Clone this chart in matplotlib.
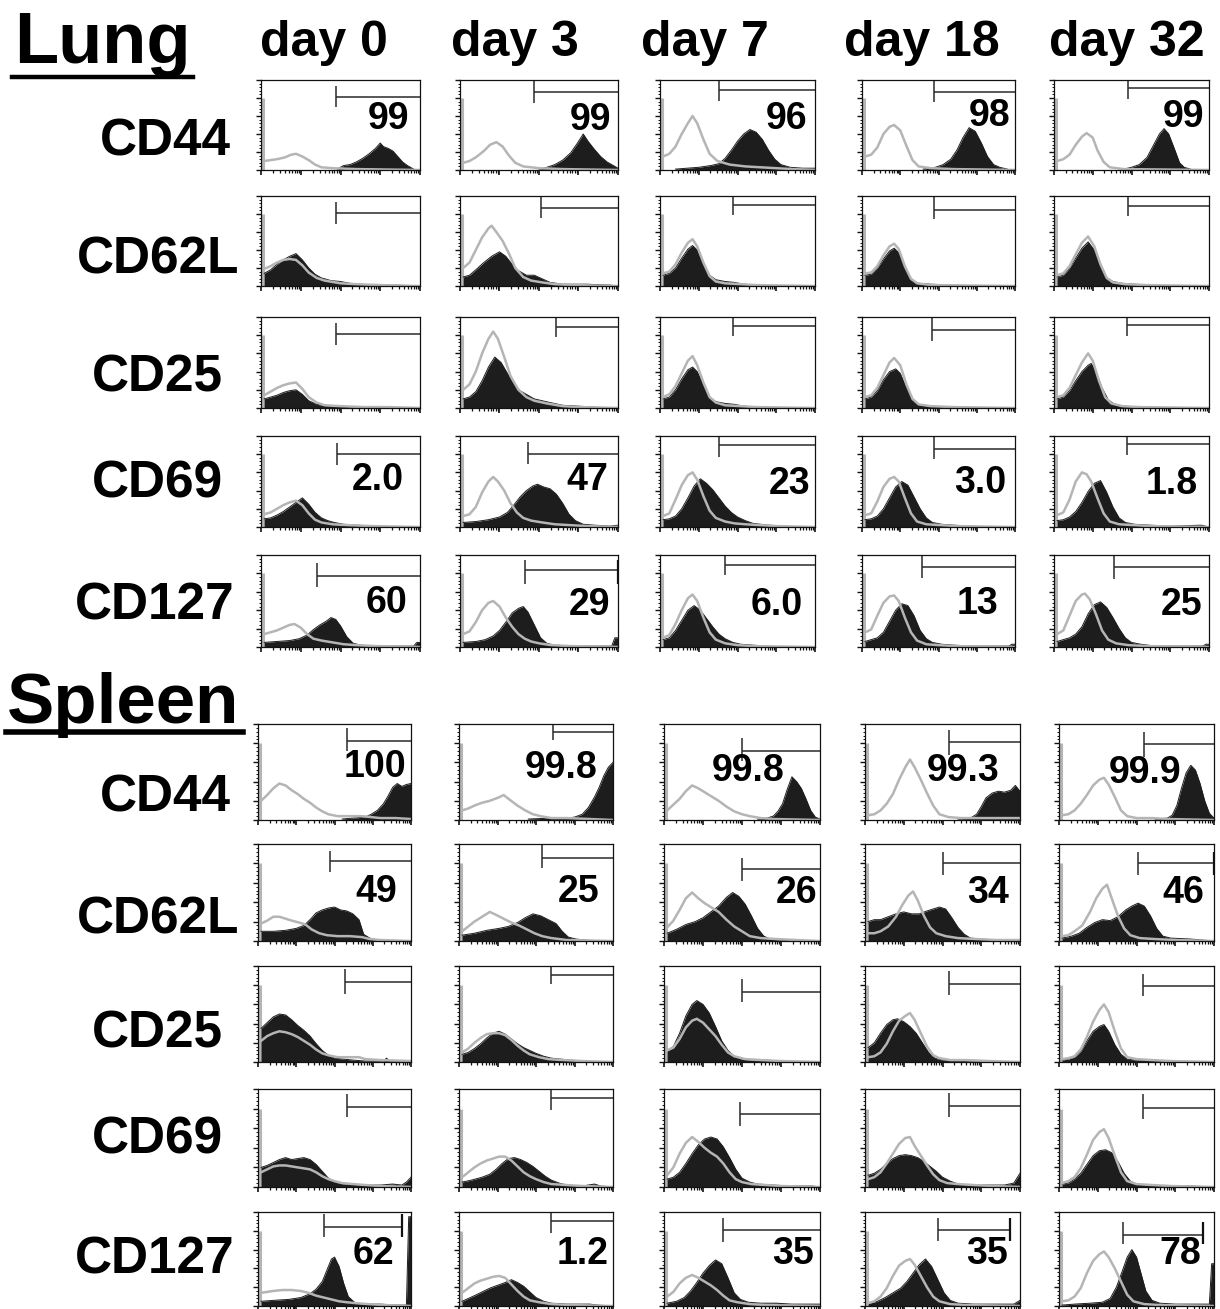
"""
Flow cytometry histogram grid: lung and spleen, five markers by five days.
"""

import numpy
import matplotlib
matplotlib.use("Agg")
from matplotlib import pyplot
from matplotlib.lines import Line2D
from matplotlib.ticker import LogLocator, NullFormatter

W, H, DPI = 1220, 1309, 100

days = ["day 0", "day 3", "day 7", "day 18", "day 32"]
markers = ["CD44", "CD62L", "CD25", "CD69", "CD127"]

# percent inside the gate ("" = not shown)
lung_pct = [["99", "99", "96", "98", "99"],
            ["", "", "", "", ""],
            ["", "", "", "", ""],
            ["2.0", "47", "23", "3.0", "1.8"],
            ["60", "29", "6.0", "13", "25"]]
spleen_pct = [["100", "99.8", "99.8", "99.3", "99.9"],
              ["49", "25", "26", "34", "46"],
              ["", "", "", "", ""],
              ["", "", "", "", ""],
              ["62", "1.2", "35", "35", "78"]]

# gates: (start, level, tick top, tick bottom, end) in axis fractions
lung_gates = [
    [(0.47, 0.81, 0.93, 0.70, 1.0), (0.47, 0.87, 1.0, 0.75, 1.0), (0.38, 0.89, 1.0, 0.77, 1.0),
     (0.47, 0.87, 1.0, 0.76, 1.0), (0.48, 0.91, 1.0, 0.79, 1.0)],
    [(0.47, 0.81, 0.93, 0.69, 1.0), (0.51, 0.87, 1.0, 0.76, 1.0), (0.47, 0.90, 1.0, 0.79, 1.0),
     (0.47, 0.85, 1.0, 0.75, 1.0), (0.48, 0.89, 1.0, 0.78, 1.0)],
    [(0.47, 0.81, 0.93, 0.69, 1.0), (0.61, 0.89, 1.0, 0.78, 1.0), (0.47, 0.90, 1.0, 0.79, 1.0),
     (0.46, 0.86, 1.0, 0.74, 1.0), (0.47, 0.91, 1.0, 0.79, 1.0)],
    [(0.48, 0.80, 0.92, 0.68, 1.0), (0.43, 0.80, 0.93, 0.69, 1.0), (0.38, 0.90, 1.0, 0.77, 1.0),
     (0.47, 0.86, 1.0, 0.75, 1.0), (0.47, 0.91, 1.0, 0.79, 1.0)],
    [(0.35, 0.77, 0.91, 0.65, 1.0), (0.41, 0.84, 0.95, 0.69, 1.0), (0.42, 0.89, 1.0, 0.78, 1.0),
     (0.39, 0.87, 1.0, 0.75, 1.0), (0.39, 0.87, 1.0, 0.74, 1.0)],
]
lung_gate_endtick = [[False] * 5, [False] * 5, [False] * 5, [False] * 5,
                     [False, True, False, False, False]]
spleen_gates = [
    [(0.58, 0.82, 0.96, 0.72, 1.0), (0.61, 0.92, 1.0, 0.83, 1.0), (0.50, 0.72, 0.85, 0.61, 1.0),
     (0.54, 0.81, 0.94, 0.68, 1.0), (0.55, 0.79, 0.92, 0.66, 1.0)],
    [(0.47, 0.82, 0.93, 0.71, 1.0), (0.54, 0.86, 1.0, 0.75, 1.0), (0.50, 0.74, 0.86, 0.62, 1.0),
     (0.50, 0.80, 0.92, 0.68, 1.0), (0.51, 0.80, 0.92, 0.68, 1.0)],
    [(0.57, 0.83, 0.97, 0.71, 1.0), (0.60, 0.91, 1.0, 0.81, 1.0), (0.50, 0.73, 0.86, 0.62, 1.0),
     (0.54, 0.81, 0.95, 0.70, 1.0), (0.54, 0.79, 0.92, 0.69, 1.0)],
    [(0.58, 0.82, 0.95, 0.71, 1.0), (0.60, 0.91, 1.0, 0.79, 1.0), (0.49, 0.74, 0.87, 0.62, 1.0),
     (0.54, 0.83, 0.96, 0.71, 1.0), (0.54, 0.81, 0.95, 0.69, 1.0)],
    [(0.43, 0.84, 0.98, 0.73, 0.94), (0.60, 0.90, 1.0, 0.78, 1.0), (0.38, 0.81, 0.94, 0.68, 1.0),
     (0.47, 0.81, 0.94, 0.69, 0.94), (0.41, 0.76, 0.89, 0.66, 0.93)],
]
spleen_gate_endtick = [[False] * 5, [False, False, False, False, True], [False] * 5, [False] * 5,
                       [True, False, False, True, True]]

# histogram outlines: (position along 4 log decades 0..1, height 0..1)
lung_cd44_black = [
    [(0.48, 0.01), (0.52, 0.05), (0.56, 0.06), (0.60, 0.09), (0.64, 0.13), (0.68, 0.18), (0.72, 0.24), (0.75, 0.30),
     (0.77, 0.26), (0.80, 0.24), (0.83, 0.21), (0.86, 0.15), (0.89, 0.09), (0.92, 0.05), (0.95, 0.02), (0.97, 0.0)],
    [(0.50, 0.01), (0.55, 0.03), (0.60, 0.06), (0.65, 0.11), (0.70, 0.19), (0.74, 0.29), (0.78, 0.40), (0.81, 0.32),
     (0.85, 0.23), (0.89, 0.15), (0.93, 0.09), (0.97, 0.05), (1.0, 0.02)],
    [(0.10, 0.01), (0.25, 0.03), (0.33, 0.05), (0.38, 0.07), (0.42, 0.13), (0.46, 0.22), (0.50, 0.32), (0.54, 0.40),
     (0.58, 0.45), (0.62, 0.42), (0.66, 0.34), (0.70, 0.22), (0.74, 0.12), (0.78, 0.06), (0.84, 0.03), (0.92, 0.02),
     (1.0, 0.02)],
    [(0.40, 0.01), (0.48, 0.03), (0.53, 0.06), (0.58, 0.12), (0.62, 0.22), (0.66, 0.36), (0.70, 0.47), (0.74, 0.43),
     (0.78, 0.30), (0.82, 0.15), (0.86, 0.06), (0.90, 0.03), (0.95, 0.01)],
    [(0.45, 0.01), (0.50, 0.03), (0.55, 0.06), (0.60, 0.14), (0.64, 0.27), (0.68, 0.40), (0.71, 0.46), (0.74, 0.40),
     (0.78, 0.22), (0.81, 0.08), (0.84, 0.03), (0.88, 0.01)],
]
lung_cd44_gray = [
    [(0.02, 0.10), (0.06, 0.11), (0.10, 0.12), (0.15, 0.14), (0.19, 0.17), (0.22, 0.18), (0.26, 0.15), (0.30, 0.11),
     (0.34, 0.06), (0.38, 0.03), (0.45, 0.02), (0.60, 0.01), (1.0, 0.0)],
    [(0.02, 0.08), (0.06, 0.10), (0.10, 0.14), (0.15, 0.21), (0.19, 0.28), (0.23, 0.31), (0.27, 0.26), (0.31, 0.16),
     (0.35, 0.08), (0.40, 0.04), (0.50, 0.02), (0.65, 0.01), (1.0, 0.0)],
    [(0.02, 0.15), (0.06, 0.18), (0.10, 0.26), (0.14, 0.40), (0.18, 0.52), (0.21, 0.60), (0.24, 0.52), (0.28, 0.34),
     (0.32, 0.18), (0.37, 0.10), (0.45, 0.06), (0.55, 0.04), (0.65, 0.03), (0.75, 0.02), (0.85, 0.01), (1.0, 0.0)],
    [(0.02, 0.15), (0.06, 0.17), (0.10, 0.25), (0.14, 0.40), (0.18, 0.48), (0.21, 0.50), (0.25, 0.44), (0.29, 0.27),
     (0.33, 0.11), (0.37, 0.04), (0.45, 0.02), (0.60, 0.01), (1.0, 0.0)],
    [(0.02, 0.10), (0.06, 0.12), (0.10, 0.17), (0.14, 0.28), (0.18, 0.37), (0.21, 0.41), (0.25, 0.36), (0.28, 0.22),
     (0.32, 0.09), (0.36, 0.03), (0.45, 0.01), (1.0, 0.0)],
]
lung_cd62l_black = [
    [(0.02, 0.14), (0.06, 0.18), (0.10, 0.24), (0.14, 0.29), (0.18, 0.33), (0.22, 0.36), (0.26, 0.29), (0.30, 0.20),
     (0.34, 0.13), (0.38, 0.09), (0.44, 0.06), (0.50, 0.05), (0.56, 0.03), (0.62, 0.02), (0.72, 0.01), (0.85, 0.01),
     (1.0, 0.0)],
    [(0.02, 0.10), (0.06, 0.12), (0.10, 0.18), (0.15, 0.26), (0.20, 0.33), (0.25, 0.38), (0.29, 0.33), (0.33, 0.24),
     (0.37, 0.17), (0.42, 0.12), (0.47, 0.12), (0.52, 0.08), (0.57, 0.04), (0.65, 0.02), (0.80, 0.02), (0.95, 0.01),
     (1.0, 0.0)],
    [(0.02, 0.12), (0.06, 0.14), (0.10, 0.20), (0.14, 0.31), (0.18, 0.41), (0.21, 0.45), (0.24, 0.40), (0.28, 0.25),
     (0.32, 0.12), (0.36, 0.07), (0.42, 0.05), (0.48, 0.04), (0.54, 0.02), (0.62, 0.01), (0.70, 0.0)],
    [(0.02, 0.12), (0.06, 0.13), (0.10, 0.20), (0.14, 0.30), (0.18, 0.39), (0.21, 0.42), (0.24, 0.37), (0.28, 0.20),
     (0.32, 0.07), (0.37, 0.03), (0.45, 0.02), (0.60, 0.01), (0.75, 0.0)],
    [(0.02, 0.10), (0.06, 0.12), (0.10, 0.20), (0.14, 0.31), (0.18, 0.42), (0.22, 0.49), (0.26, 0.40), (0.30, 0.22),
     (0.34, 0.09), (0.38, 0.05), (0.44, 0.03), (0.52, 0.02), (0.62, 0.01), (0.70, 0.0)],
]
lung_cd62l_gray = [
    [(0.02, 0.19), (0.06, 0.22), (0.10, 0.26), (0.14, 0.29), (0.18, 0.30), (0.22, 0.29), (0.26, 0.23), (0.30, 0.15),
     (0.35, 0.09), (0.40, 0.06), (0.50, 0.03), (0.60, 0.02), (0.75, 0.01), (1.0, 0.0)],
    [(0.02, 0.20), (0.06, 0.26), (0.10, 0.40), (0.14, 0.54), (0.18, 0.64), (0.20, 0.67), (0.23, 0.60), (0.27, 0.50),
     (0.31, 0.36), (0.35, 0.20), (0.40, 0.10), (0.45, 0.06), (0.52, 0.04), (0.60, 0.02), (0.72, 0.01), (1.0, 0.0)],
    [(0.02, 0.14), (0.06, 0.16), (0.10, 0.24), (0.14, 0.37), (0.18, 0.48), (0.21, 0.52), (0.24, 0.44), (0.28, 0.26),
     (0.32, 0.11), (0.36, 0.05), (0.42, 0.03), (0.52, 0.02), (0.62, 0.01), (1.0, 0.0)],
    [(0.02, 0.14), (0.06, 0.15), (0.10, 0.22), (0.14, 0.34), (0.18, 0.44), (0.21, 0.47), (0.24, 0.41), (0.28, 0.22),
     (0.32, 0.08), (0.36, 0.03), (0.45, 0.01), (1.0, 0.0)],
    [(0.02, 0.12), (0.06, 0.14), (0.10, 0.22), (0.14, 0.35), (0.18, 0.48), (0.22, 0.55), (0.26, 0.44), (0.30, 0.24),
     (0.34, 0.09), (0.38, 0.04), (0.46, 0.02), (0.60, 0.01), (1.0, 0.0)],
]
lung_cd25_black = [
    [(0.02, 0.10), (0.06, 0.12), (0.10, 0.14), (0.14, 0.17), (0.18, 0.19), (0.22, 0.20), (0.26, 0.15), (0.30, 0.08),
     (0.35, 0.04), (0.40, 0.03), (0.50, 0.02), (0.60, 0.01), (0.70, 0.0)],
    [(0.02, 0.10), (0.06, 0.12), (0.10, 0.18), (0.14, 0.30), (0.18, 0.45), (0.22, 0.56), (0.26, 0.50), (0.30, 0.38),
     (0.34, 0.26), (0.38, 0.19), (0.42, 0.15), (0.47, 0.10), (0.52, 0.08), (0.57, 0.06), (0.65, 0.03), (0.75, 0.02),
     (0.85, 0.01), (0.95, 0.0)],
    [(0.02, 0.10), (0.06, 0.12), (0.10, 0.20), (0.14, 0.32), (0.18, 0.42), (0.21, 0.45), (0.24, 0.40), (0.28, 0.25),
     (0.32, 0.12), (0.36, 0.07), (0.42, 0.05), (0.48, 0.04), (0.54, 0.02), (0.62, 0.01), (0.70, 0.0)],
    [(0.02, 0.10), (0.06, 0.12), (0.10, 0.19), (0.14, 0.31), (0.18, 0.40), (0.22, 0.43), (0.25, 0.38), (0.29, 0.22),
     (0.33, 0.09), (0.37, 0.04), (0.45, 0.02), (0.60, 0.01), (0.75, 0.0)],
    [(0.02, 0.10), (0.06, 0.12), (0.10, 0.19), (0.14, 0.30), (0.18, 0.40), (0.22, 0.47), (0.24, 0.49), (0.27, 0.40),
     (0.31, 0.22), (0.35, 0.09), (0.39, 0.04), (0.45, 0.02), (0.55, 0.01), (0.65, 0.0)],
]
lung_cd25_gray = [
    [(0.02, 0.14), (0.06, 0.18), (0.10, 0.22), (0.14, 0.25), (0.18, 0.27), (0.22, 0.28), (0.26, 0.21), (0.30, 0.12),
     (0.35, 0.06), (0.40, 0.03), (0.50, 0.02), (0.65, 0.01), (0.80, 0.01), (1.0, 0.0)],
    [(0.02, 0.20), (0.06, 0.26), (0.10, 0.40), (0.14, 0.60), (0.18, 0.76), (0.21, 0.84), (0.24, 0.76), (0.28, 0.56),
     (0.32, 0.35), (0.37, 0.20), (0.42, 0.12), (0.47, 0.08), (0.55, 0.05), (0.65, 0.02), (0.75, 0.01), (1.0, 0.0)],
    [(0.02, 0.12), (0.06, 0.15), (0.10, 0.24), (0.14, 0.38), (0.18, 0.52), (0.21, 0.57), (0.24, 0.47), (0.28, 0.28),
     (0.32, 0.12), (0.36, 0.06), (0.42, 0.03), (0.52, 0.02), (0.62, 0.01), (1.0, 0.0)],
    [(0.02, 0.12), (0.06, 0.14), (0.10, 0.22), (0.14, 0.36), (0.18, 0.50), (0.21, 0.55), (0.25, 0.47), (0.29, 0.26),
     (0.33, 0.10), (0.37, 0.04), (0.45, 0.02), (0.60, 0.01), (1.0, 0.0)],
    [(0.02, 0.12), (0.06, 0.14), (0.10, 0.22), (0.14, 0.36), (0.18, 0.50), (0.22, 0.60), (0.25, 0.52), (0.29, 0.30),
     (0.33, 0.12), (0.37, 0.05), (0.44, 0.02), (0.55, 0.01), (1.0, 0.0)],
]
lung_cd69_black = [
    [(0.02, 0.09), (0.06, 0.10), (0.10, 0.13), (0.14, 0.17), (0.18, 0.22), (0.22, 0.27), (0.26, 0.32), (0.30, 0.25),
     (0.34, 0.16), (0.38, 0.10), (0.42, 0.07), (0.46, 0.05), (0.52, 0.03), (0.60, 0.02), (0.70, 0.01), (0.80, 0.0)],
    [(0.02, 0.05), (0.10, 0.06), (0.18, 0.08), (0.25, 0.11), (0.30, 0.16), (0.34, 0.24), (0.38, 0.33), (0.42, 0.40),
     (0.46, 0.45), (0.49, 0.47), (0.53, 0.44), (0.57, 0.42), (0.61, 0.36), (0.65, 0.26), (0.69, 0.14), (0.73, 0.07),
     (0.78, 0.03), (0.85, 0.02), (0.95, 0.01), (1.0, 0.02)],
    [(0.02, 0.08), (0.06, 0.09), (0.10, 0.12), (0.14, 0.20), (0.18, 0.32), (0.22, 0.45), (0.26, 0.53), (0.30, 0.48),
     (0.34, 0.41), (0.38, 0.32), (0.42, 0.23), (0.46, 0.16), (0.50, 0.11), (0.55, 0.07), (0.60, 0.04), (0.70, 0.02),
     (0.80, 0.01), (0.90, 0.0)],
    [(0.02, 0.08), (0.06, 0.09), (0.10, 0.12), (0.14, 0.20), (0.18, 0.32), (0.22, 0.44), (0.26, 0.50), (0.30, 0.46),
     (0.34, 0.33), (0.38, 0.20), (0.42, 0.10), (0.46, 0.05), (0.52, 0.03), (0.60, 0.02), (0.70, 0.01), (0.80, 0.0)],
    [(0.02, 0.07), (0.06, 0.08), (0.10, 0.11), (0.14, 0.17), (0.18, 0.27), (0.22, 0.39), (0.26, 0.48), (0.30, 0.51),
     (0.34, 0.38), (0.38, 0.22), (0.42, 0.10), (0.46, 0.05), (0.52, 0.03), (0.62, 0.02), (0.75, 0.01), (0.95, 0.02),
     (1.0, 0.0)],
]
lung_cd69_gray = [
    [(0.02, 0.14), (0.06, 0.16), (0.10, 0.20), (0.14, 0.24), (0.18, 0.27), (0.22, 0.29), (0.26, 0.24), (0.30, 0.15),
     (0.34, 0.08), (0.38, 0.05), (0.45, 0.03), (0.55, 0.02), (0.70, 0.01), (1.0, 0.0)],
    [(0.02, 0.12), (0.06, 0.14), (0.10, 0.22), (0.14, 0.38), (0.18, 0.50), (0.21, 0.55), (0.24, 0.50), (0.28, 0.40),
     (0.32, 0.26), (0.36, 0.16), (0.40, 0.10), (0.45, 0.07), (0.52, 0.05), (0.60, 0.03), (0.70, 0.02), (0.80, 0.01),
     (1.0, 0.0)],
    [(0.02, 0.12), (0.06, 0.15), (0.10, 0.30), (0.14, 0.46), (0.18, 0.57), (0.21, 0.60), (0.24, 0.52), (0.28, 0.34),
     (0.32, 0.18), (0.36, 0.10), (0.42, 0.06), (0.48, 0.04), (0.55, 0.03), (0.65, 0.02), (0.75, 0.01), (1.0, 0.0)],
    [(0.02, 0.13), (0.06, 0.15), (0.10, 0.28), (0.14, 0.44), (0.18, 0.53), (0.21, 0.55), (0.24, 0.50), (0.28, 0.32),
     (0.32, 0.15), (0.36, 0.06), (0.42, 0.03), (0.52, 0.02), (0.62, 0.01), (1.0, 0.0)],
    [(0.02, 0.13), (0.06, 0.16), (0.10, 0.30), (0.14, 0.50), (0.18, 0.60), (0.21, 0.58), (0.24, 0.50), (0.28, 0.32),
     (0.32, 0.15), (0.36, 0.06), (0.42, 0.03), (0.52, 0.02), (0.62, 0.01), (1.0, 0.0)],
]
lung_cd127_black = [
    [(0.02, 0.05), (0.10, 0.06), (0.18, 0.07), (0.24, 0.09), (0.29, 0.13), (0.33, 0.19), (0.37, 0.24), (0.41, 0.28),
     (0.44, 0.32), (0.47, 0.30), (0.50, 0.23), (0.54, 0.11), (0.58, 0.04), (0.63, 0.02), (0.72, 0.01), (0.85, 0.01),
     (0.96, 0.01), (0.98, 0.05), (1.0, 0.05)],
    [(0.02, 0.05), (0.10, 0.06), (0.16, 0.08), (0.21, 0.12), (0.25, 0.18), (0.29, 0.27), (0.33, 0.37), (0.37, 0.42),
     (0.40, 0.44), (0.43, 0.38), (0.47, 0.24), (0.51, 0.10), (0.55, 0.04), (0.60, 0.02), (0.70, 0.01), (0.96, 0.01),
     (0.98, 0.10), (1.0, 0.10)],
    [(0.02, 0.08), (0.06, 0.10), (0.10, 0.18), (0.14, 0.29), (0.18, 0.40), (0.22, 0.45), (0.26, 0.40), (0.30, 0.31),
     (0.34, 0.22), (0.38, 0.14), (0.42, 0.09), (0.47, 0.05), (0.52, 0.03), (0.60, 0.02), (0.68, 0.01), (0.75, 0.0)],
    [(0.02, 0.06), (0.06, 0.08), (0.10, 0.10), (0.14, 0.16), (0.18, 0.28), (0.22, 0.40), (0.26, 0.47), (0.30, 0.45),
     (0.34, 0.34), (0.38, 0.18), (0.42, 0.09), (0.46, 0.05), (0.52, 0.03), (0.60, 0.02), (0.72, 0.01), (0.96, 0.01),
     (0.98, 0.03), (1.0, 0.03)],
    [(0.02, 0.06), (0.06, 0.08), (0.10, 0.10), (0.14, 0.14), (0.18, 0.22), (0.22, 0.36), (0.26, 0.46), (0.30, 0.49),
     (0.34, 0.43), (0.38, 0.32), (0.42, 0.20), (0.46, 0.10), (0.50, 0.05), (0.56, 0.03), (0.65, 0.01), (0.96, 0.01),
     (0.98, 0.03), (1.0, 0.03)],
]
lung_cd127_gray = [
    [(0.02, 0.14), (0.06, 0.16), (0.10, 0.18), (0.14, 0.21), (0.18, 0.24), (0.21, 0.25), (0.25, 0.21), (0.29, 0.14),
     (0.33, 0.09), (0.38, 0.07), (0.45, 0.05), (0.52, 0.03), (0.60, 0.02), (0.72, 0.01), (1.0, 0.0)],
    [(0.02, 0.14), (0.06, 0.17), (0.10, 0.27), (0.14, 0.40), (0.18, 0.48), (0.21, 0.50), (0.25, 0.44), (0.29, 0.32),
     (0.33, 0.22), (0.37, 0.14), (0.41, 0.09), (0.45, 0.06), (0.50, 0.04), (0.58, 0.02), (0.70, 0.01), (1.0, 0.0)],
    [(0.02, 0.10), (0.06, 0.13), (0.10, 0.25), (0.14, 0.40), (0.18, 0.53), (0.21, 0.57), (0.24, 0.50), (0.28, 0.32),
     (0.32, 0.16), (0.36, 0.08), (0.42, 0.04), (0.50, 0.02), (0.60, 0.01), (1.0, 0.0)],
    [(0.02, 0.16), (0.06, 0.19), (0.10, 0.34), (0.14, 0.48), (0.18, 0.55), (0.21, 0.56), (0.24, 0.50), (0.28, 0.32),
     (0.32, 0.16), (0.36, 0.07), (0.42, 0.03), (0.50, 0.02), (0.60, 0.01), (1.0, 0.0)],
    [(0.02, 0.14), (0.06, 0.18), (0.10, 0.34), (0.14, 0.50), (0.18, 0.57), (0.20, 0.58), (0.23, 0.52), (0.27, 0.36),
     (0.31, 0.18), (0.35, 0.08), (0.40, 0.04), (0.48, 0.02), (0.60, 0.01), (1.0, 0.0)],
]

spleen_cd44_black = [
    [(0.55, 0.01), (0.62, 0.02), (0.70, 0.03), (0.74, 0.06), (0.78, 0.10), (0.82, 0.17), (0.85, 0.25), (0.88, 0.34),
     (0.91, 0.38), (0.94, 0.35), (0.97, 0.37), (1.0, 0.38)],
    [(0.45, 0.01), (0.60, 0.02), (0.70, 0.02), (0.75, 0.03), (0.80, 0.06), (0.84, 0.13), (0.88, 0.24), (0.91, 0.34),
     (0.94, 0.46), (0.97, 0.55), (1.0, 0.60)],
    [(0.60, 0.01), (0.66, 0.02), (0.70, 0.04), (0.73, 0.09), (0.76, 0.17), (0.79, 0.32), (0.82, 0.45), (0.85, 0.40),
     (0.88, 0.33), (0.91, 0.22), (0.94, 0.10), (0.97, 0.03), (1.0, 0.01)],
    [(0.60, 0.01), (0.68, 0.02), (0.72, 0.06), (0.75, 0.14), (0.78, 0.23), (0.82, 0.28), (0.86, 0.30), (0.90, 0.29),
     (0.94, 0.31), (0.97, 0.36), (1.0, 0.30)],
    [(0.62, 0.01), (0.70, 0.02), (0.73, 0.05), (0.76, 0.15), (0.79, 0.33), (0.82, 0.49), (0.85, 0.57), (0.88, 0.52),
     (0.91, 0.38), (0.94, 0.20), (0.97, 0.07), (1.0, 0.02)],
]
spleen_cd44_gray = [
    [(0.02, 0.20), (0.06, 0.26), (0.10, 0.33), (0.14, 0.38), (0.18, 0.36), (0.22, 0.31), (0.26, 0.27), (0.30, 0.22),
     (0.34, 0.18), (0.38, 0.13), (0.42, 0.09), (0.46, 0.06), (0.52, 0.04), (0.60, 0.04), (0.68, 0.04), (0.74, 0.03),
     (0.80, 0.02), (0.90, 0.02), (1.0, 0.01)],
    [(0.02, 0.10), (0.06, 0.12), (0.10, 0.15), (0.15, 0.18), (0.20, 0.20), (0.25, 0.23), (0.29, 0.26), (0.33, 0.21),
     (0.38, 0.15), (0.43, 0.10), (0.48, 0.06), (0.53, 0.04), (0.60, 0.02), (0.70, 0.02), (0.85, 0.01), (1.0, 0.0)],
    [(0.02, 0.10), (0.06, 0.16), (0.10, 0.22), (0.14, 0.30), (0.18, 0.36), (0.22, 0.33), (0.26, 0.29), (0.30, 0.25),
     (0.35, 0.20), (0.40, 0.14), (0.45, 0.09), (0.50, 0.06), (0.55, 0.04), (0.62, 0.02), (0.70, 0.01), (1.0, 0.0)],
    [(0.02, 0.05), (0.06, 0.06), (0.10, 0.10), (0.14, 0.17), (0.18, 0.27), (0.22, 0.42), (0.26, 0.55), (0.29, 0.63),
     (0.32, 0.55), (0.36, 0.42), (0.40, 0.28), (0.44, 0.15), (0.48, 0.06), (0.54, 0.03), (0.62, 0.02), (0.75, 0.02),
     (0.90, 0.02), (1.0, 0.02)],
    [(0.02, 0.05), (0.06, 0.06), (0.10, 0.10), (0.14, 0.17), (0.18, 0.26), (0.22, 0.36), (0.26, 0.42), (0.29, 0.44),
     (0.32, 0.37), (0.36, 0.24), (0.40, 0.10), (0.44, 0.04), (0.50, 0.02), (0.60, 0.02), (0.70, 0.01), (1.0, 0.0)],
]
spleen_cd62l_black = [
    [(0.02, 0.10), (0.10, 0.10), (0.18, 0.11), (0.25, 0.13), (0.30, 0.16), (0.34, 0.22), (0.38, 0.29), (0.42, 0.32),
     (0.46, 0.34), (0.50, 0.35), (0.54, 0.32), (0.58, 0.31), (0.62, 0.28), (0.66, 0.22), (0.69, 0.07), (0.73, 0.03),
     (0.78, 0.01), (0.82, 0.0)],
    [(0.02, 0.06), (0.10, 0.08), (0.18, 0.11), (0.26, 0.13), (0.32, 0.15), (0.38, 0.19), (0.43, 0.24), (0.48, 0.28),
     (0.53, 0.26), (0.58, 0.22), (0.63, 0.18), (0.67, 0.10), (0.71, 0.04), (0.76, 0.02), (0.82, 0.01), (0.90, 0.0)],
    [(0.02, 0.08), (0.08, 0.12), (0.14, 0.17), (0.20, 0.20), (0.25, 0.24), (0.30, 0.30), (0.35, 0.36), (0.40, 0.45),
     (0.44, 0.50), (0.48, 0.46), (0.52, 0.38), (0.56, 0.26), (0.60, 0.13), (0.64, 0.05), (0.68, 0.02), (0.75, 0.01),
     (0.85, 0.0)],
    [(0.02, 0.20), (0.06, 0.22), (0.10, 0.22), (0.15, 0.25), (0.20, 0.28), (0.25, 0.30), (0.30, 0.28), (0.35, 0.28),
     (0.40, 0.31), (0.44, 0.33), (0.48, 0.35), (0.52, 0.33), (0.56, 0.24), (0.60, 0.14), (0.64, 0.07), (0.68, 0.03),
     (0.75, 0.02), (0.85, 0.01), (1.0, 0.0)],
    [(0.02, 0.03), (0.08, 0.05), (0.13, 0.08), (0.18, 0.14), (0.23, 0.19), (0.28, 0.22), (0.33, 0.21), (0.38, 0.25),
     (0.43, 0.32), (0.47, 0.36), (0.51, 0.39), (0.55, 0.36), (0.59, 0.26), (0.63, 0.13), (0.67, 0.05), (0.72, 0.03),
     (0.85, 0.02), (1.0, 0.0)],
]
spleen_cd62l_gray = [
    [(0.02, 0.18), (0.06, 0.21), (0.10, 0.25), (0.14, 0.25), (0.18, 0.23), (0.22, 0.21), (0.27, 0.19), (0.31, 0.17),
     (0.35, 0.12), (0.40, 0.08), (0.45, 0.06), (0.52, 0.05), (0.60, 0.05), (0.68, 0.04), (0.73, 0.02), (0.80, 0.01),
     (1.0, 0.0)],
    [(0.02, 0.10), (0.06, 0.15), (0.10, 0.20), (0.15, 0.25), (0.20, 0.30), (0.24, 0.27), (0.29, 0.23), (0.34, 0.19),
     (0.39, 0.16), (0.44, 0.12), (0.49, 0.08), (0.54, 0.05), (0.60, 0.03), (0.70, 0.01), (1.0, 0.0)],
    [(0.02, 0.14), (0.06, 0.21), (0.10, 0.32), (0.14, 0.44), (0.18, 0.50), (0.22, 0.44), (0.26, 0.39), (0.30, 0.35),
     (0.35, 0.30), (0.40, 0.22), (0.45, 0.15), (0.50, 0.10), (0.55, 0.05), (0.62, 0.03), (0.72, 0.02), (0.85, 0.01),
     (1.0, 0.0)],
    [(0.02, 0.08), (0.06, 0.08), (0.10, 0.10), (0.15, 0.15), (0.20, 0.25), (0.24, 0.37), (0.28, 0.47), (0.31, 0.51),
     (0.34, 0.42), (0.38, 0.26), (0.42, 0.14), (0.46, 0.08), (0.52, 0.05), (0.60, 0.03), (0.72, 0.02), (0.85, 0.01),
     (1.0, 0.01)],
    [(0.02, 0.05), (0.06, 0.06), (0.10, 0.10), (0.15, 0.16), (0.20, 0.30), (0.24, 0.44), (0.28, 0.54), (0.31, 0.58),
     (0.34, 0.44), (0.38, 0.26), (0.42, 0.13), (0.46, 0.06), (0.52, 0.03), (0.62, 0.02), (0.75, 0.01), (1.0, 0.0)],
]
spleen_cd25_black = [
    [(0.02, 0.35), (0.06, 0.41), (0.10, 0.47), (0.14, 0.50), (0.18, 0.49), (0.22, 0.44), (0.26, 0.38), (0.30, 0.33),
     (0.34, 0.27), (0.38, 0.19), (0.42, 0.12), (0.46, 0.07), (0.50, 0.04), (0.56, 0.03), (0.62, 0.02), (0.70, 0.01),
     (0.82, 0.01), (0.84, 0.04), (0.86, 0.01), (1.0, 0.0)],
    [(0.02, 0.08), (0.06, 0.10), (0.10, 0.14), (0.14, 0.19), (0.18, 0.25), (0.22, 0.30), (0.26, 0.32), (0.30, 0.29),
     (0.34, 0.24), (0.38, 0.19), (0.42, 0.15), (0.46, 0.12), (0.50, 0.09), (0.55, 0.06), (0.60, 0.04), (0.66, 0.03),
     (0.72, 0.02), (0.80, 0.01), (0.90, 0.0)],
    [(0.02, 0.12), (0.06, 0.16), (0.10, 0.30), (0.14, 0.48), (0.18, 0.60), (0.21, 0.64), (0.25, 0.60), (0.29, 0.51),
     (0.33, 0.37), (0.37, 0.22), (0.41, 0.12), (0.45, 0.06), (0.50, 0.03), (0.56, 0.02), (0.65, 0.02), (0.75, 0.01),
     (0.90, 0.0)],
    [(0.02, 0.15), (0.06, 0.20), (0.10, 0.30), (0.14, 0.39), (0.18, 0.44), (0.21, 0.45), (0.25, 0.42), (0.29, 0.37),
     (0.33, 0.30), (0.37, 0.20), (0.41, 0.10), (0.45, 0.04), (0.50, 0.02), (0.60, 0.02), (0.70, 0.01), (0.85, 0.0)],
    [(0.02, 0.02), (0.06, 0.03), (0.10, 0.05), (0.14, 0.11), (0.18, 0.22), (0.22, 0.32), (0.26, 0.37), (0.29, 0.39),
     (0.32, 0.32), (0.36, 0.18), (0.40, 0.08), (0.44, 0.03), (0.50, 0.02), (0.60, 0.02), (0.72, 0.01), (0.85, 0.0)],
]
spleen_cd25_gray = [
    [(0.02, 0.22), (0.06, 0.27), (0.10, 0.30), (0.14, 0.32), (0.18, 0.31), (0.22, 0.29), (0.26, 0.26), (0.30, 0.22),
     (0.34, 0.18), (0.38, 0.13), (0.42, 0.09), (0.46, 0.07), (0.52, 0.05), (0.60, 0.05), (0.66, 0.05), (0.70, 0.03),
     (0.80, 0.02), (1.0, 0.01)],
    [(0.02, 0.10), (0.06, 0.14), (0.10, 0.20), (0.14, 0.25), (0.18, 0.29), (0.22, 0.30), (0.26, 0.30), (0.30, 0.28),
     (0.34, 0.23), (0.38, 0.17), (0.42, 0.12), (0.46, 0.08), (0.52, 0.05), (0.58, 0.03), (0.68, 0.02), (0.80, 0.01),
     (1.0, 0.0)],
    [(0.02, 0.12), (0.06, 0.15), (0.10, 0.24), (0.14, 0.36), (0.18, 0.43), (0.21, 0.45), (0.25, 0.41), (0.29, 0.34),
     (0.33, 0.27), (0.37, 0.18), (0.41, 0.10), (0.45, 0.06), (0.52, 0.03), (0.62, 0.02), (0.75, 0.01), (1.0, 0.0)],
    [(0.02, 0.05), (0.06, 0.06), (0.10, 0.10), (0.14, 0.19), (0.18, 0.32), (0.22, 0.43), (0.26, 0.48), (0.29, 0.51),
     (0.32, 0.44), (0.36, 0.30), (0.40, 0.16), (0.44, 0.07), (0.48, 0.04), (0.55, 0.02), (0.65, 0.02), (0.80, 0.01),
     (1.0, 0.0)],
    [(0.02, 0.03), (0.06, 0.04), (0.10, 0.06), (0.14, 0.13), (0.18, 0.26), (0.22, 0.42), (0.26, 0.54), (0.29, 0.60),
     (0.32, 0.52), (0.36, 0.32), (0.40, 0.14), (0.44, 0.05), (0.50, 0.03), (0.60, 0.02), (0.72, 0.01), (1.0, 0.0)],
]
spleen_cd69_black = [
    [(0.02, 0.20), (0.06, 0.22), (0.10, 0.25), (0.14, 0.28), (0.18, 0.30), (0.22, 0.28), (0.26, 0.29), (0.30, 0.30),
     (0.34, 0.28), (0.38, 0.23), (0.42, 0.16), (0.46, 0.09), (0.50, 0.05), (0.56, 0.03), (0.62, 0.03), (0.70, 0.02),
     (0.80, 0.02), (0.88, 0.03), (0.94, 0.02), (0.97, 0.05), (1.0, 0.10)],
    [(0.02, 0.05), (0.08, 0.07), (0.15, 0.10), (0.20, 0.13), (0.24, 0.18), (0.28, 0.24), (0.32, 0.29), (0.36, 0.30),
     (0.40, 0.28), (0.44, 0.25), (0.48, 0.21), (0.52, 0.16), (0.56, 0.11), (0.60, 0.07), (0.65, 0.04), (0.70, 0.02),
     (0.80, 0.01), (0.88, 0.03), (0.92, 0.01), (1.0, 0.0)],
    [(0.02, 0.08), (0.06, 0.10), (0.10, 0.15), (0.14, 0.24), (0.18, 0.34), (0.22, 0.43), (0.26, 0.49), (0.30, 0.51),
     (0.34, 0.49), (0.38, 0.41), (0.42, 0.30), (0.46, 0.18), (0.50, 0.09), (0.55, 0.05), (0.60, 0.03), (0.70, 0.02),
     (0.80, 0.01), (0.95, 0.01), (1.0, 0.0)],
    [(0.02, 0.12), (0.06, 0.14), (0.10, 0.18), (0.14, 0.24), (0.18, 0.29), (0.22, 0.32), (0.26, 0.33), (0.30, 0.32),
     (0.34, 0.30), (0.38, 0.26), (0.42, 0.21), (0.46, 0.16), (0.50, 0.10), (0.55, 0.06), (0.60, 0.03), (0.70, 0.02),
     (0.80, 0.02), (0.90, 0.02), (0.96, 0.04), (1.0, 0.14)],
    [(0.02, 0.03), (0.06, 0.04), (0.10, 0.08), (0.14, 0.14), (0.18, 0.23), (0.22, 0.32), (0.26, 0.37), (0.30, 0.38),
     (0.34, 0.35), (0.38, 0.26), (0.42, 0.14), (0.46, 0.06), (0.50, 0.03), (0.60, 0.02), (0.70, 0.01), (0.85, 0.01),
     (1.0, 0.0)],
]
spleen_cd69_gray = [
    [(0.02, 0.15), (0.06, 0.18), (0.10, 0.21), (0.14, 0.22), (0.18, 0.22), (0.22, 0.21), (0.26, 0.20), (0.30, 0.19),
     (0.34, 0.18), (0.38, 0.15), (0.42, 0.11), (0.46, 0.08), (0.50, 0.06), (0.55, 0.04), (0.62, 0.03), (0.70, 0.02),
     (0.80, 0.01), (1.0, 0.0)],
    [(0.02, 0.10), (0.06, 0.15), (0.10, 0.20), (0.14, 0.24), (0.18, 0.27), (0.22, 0.29), (0.26, 0.31), (0.30, 0.31),
     (0.34, 0.27), (0.38, 0.21), (0.42, 0.15), (0.46, 0.11), (0.50, 0.08), (0.55, 0.05), (0.60, 0.03), (0.70, 0.02),
     (0.80, 0.01), (1.0, 0.0)],
    [(0.02, 0.12), (0.06, 0.20), (0.10, 0.34), (0.14, 0.45), (0.18, 0.51), (0.22, 0.46), (0.26, 0.40), (0.30, 0.35),
     (0.34, 0.31), (0.38, 0.24), (0.42, 0.15), (0.46, 0.08), (0.50, 0.05), (0.56, 0.03), (0.65, 0.02), (0.75, 0.01),
     (1.0, 0.0)],
    [(0.02, 0.08), (0.06, 0.10), (0.10, 0.15), (0.14, 0.24), (0.18, 0.34), (0.22, 0.44), (0.26, 0.50), (0.29, 0.51),
     (0.32, 0.42), (0.36, 0.32), (0.40, 0.22), (0.44, 0.13), (0.48, 0.07), (0.53, 0.04), (0.60, 0.03), (0.70, 0.02),
     (0.82, 0.01), (1.0, 0.0)],
    [(0.02, 0.04), (0.06, 0.06), (0.10, 0.10), (0.14, 0.19), (0.18, 0.33), (0.22, 0.48), (0.26, 0.56), (0.29, 0.59),
     (0.32, 0.50), (0.36, 0.32), (0.40, 0.15), (0.44, 0.06), (0.50, 0.03), (0.60, 0.02), (0.72, 0.01), (1.0, 0.0)],
]
spleen_cd127_black = [
    [(0.02, 0.05), (0.10, 0.06), (0.20, 0.07), (0.28, 0.09), (0.34, 0.13), (0.38, 0.18), (0.42, 0.26), (0.45, 0.38),
     (0.48, 0.50), (0.50, 0.52), (0.53, 0.42), (0.56, 0.24), (0.59, 0.10), (0.63, 0.04), (0.68, 0.02), (0.80, 0.02),
     (0.90, 0.01), (0.97, 0.01), (0.985, 0.95), (1.0, 0.95)],
    [(0.02, 0.05), (0.06, 0.08), (0.10, 0.11), (0.15, 0.15), (0.20, 0.19), (0.25, 0.22), (0.30, 0.25), (0.34, 0.28),
     (0.38, 0.25), (0.42, 0.21), (0.46, 0.15), (0.50, 0.09), (0.55, 0.05), (0.60, 0.03), (0.70, 0.02), (0.85, 0.02),
     (0.90, 0.01), (1.0, 0.0)],
    [(0.02, 0.03), (0.08, 0.05), (0.13, 0.09), (0.17, 0.16), (0.21, 0.25), (0.25, 0.35), (0.29, 0.43), (0.33, 0.49),
     (0.37, 0.45), (0.41, 0.30), (0.45, 0.14), (0.49, 0.07), (0.54, 0.04), (0.62, 0.03), (0.72, 0.03), (0.82, 0.02),
     (0.92, 0.02), (1.0, 0.02)],
    [(0.02, 0.03), (0.08, 0.05), (0.13, 0.09), (0.18, 0.14), (0.23, 0.19), (0.27, 0.26), (0.31, 0.35), (0.35, 0.44),
     (0.39, 0.50), (0.43, 0.42), (0.47, 0.28), (0.51, 0.14), (0.55, 0.06), (0.60, 0.03), (0.70, 0.02), (0.85, 0.02),
     (0.96, 0.02), (1.0, 0.06)],
    [(0.02, 0.01), (0.10, 0.02), (0.20, 0.03), (0.28, 0.04), (0.33, 0.08), (0.37, 0.20), (0.41, 0.38), (0.44, 0.52),
     (0.47, 0.60), (0.50, 0.52), (0.53, 0.34), (0.56, 0.16), (0.60, 0.06), (0.65, 0.03), (0.75, 0.02), (0.88, 0.02),
     (0.97, 0.02), (0.985, 0.45), (1.0, 0.45)],
]
spleen_cd127_gray = [
    [(0.02, 0.14), (0.06, 0.15), (0.10, 0.16), (0.16, 0.17), (0.22, 0.17), (0.28, 0.16), (0.33, 0.14), (0.38, 0.11),
     (0.43, 0.09), (0.48, 0.07), (0.53, 0.05), (0.58, 0.04), (0.64, 0.03), (0.72, 0.02), (0.82, 0.01), (1.0, 0.0)],
    [(0.02, 0.14), (0.06, 0.19), (0.10, 0.24), (0.14, 0.27), (0.18, 0.29), (0.22, 0.31), (0.26, 0.32), (0.30, 0.30),
     (0.34, 0.23), (0.38, 0.16), (0.42, 0.10), (0.46, 0.06), (0.52, 0.04), (0.60, 0.02), (0.72, 0.01), (1.0, 0.0)],
    [(0.02, 0.10), (0.06, 0.15), (0.10, 0.24), (0.14, 0.30), (0.18, 0.33), (0.22, 0.30), (0.26, 0.26), (0.30, 0.22),
     (0.34, 0.17), (0.38, 0.11), (0.42, 0.06), (0.47, 0.04), (0.55, 0.02), (0.65, 0.01), (1.0, 0.0)],
    [(0.02, 0.03), (0.06, 0.05), (0.10, 0.10), (0.14, 0.19), (0.18, 0.32), (0.22, 0.43), (0.26, 0.48), (0.29, 0.50),
     (0.32, 0.44), (0.36, 0.32), (0.40, 0.20), (0.44, 0.10), (0.48, 0.05), (0.55, 0.02), (0.65, 0.01), (1.0, 0.0)],
    [(0.02, 0.05), (0.06, 0.06), (0.10, 0.10), (0.14, 0.19), (0.18, 0.35), (0.22, 0.48), (0.26, 0.55), (0.29, 0.58),
     (0.32, 0.52), (0.36, 0.40), (0.40, 0.26), (0.44, 0.12), (0.48, 0.05), (0.55, 0.02), (0.65, 0.01), (1.0, 0.0)],
]

lung_black = [lung_cd44_black, lung_cd62l_black, lung_cd25_black, lung_cd69_black, lung_cd127_black]
lung_gray = [lung_cd44_gray, lung_cd62l_gray, lung_cd25_gray, lung_cd69_gray, lung_cd127_gray]
spleen_black = [spleen_cd44_black, spleen_cd62l_black, spleen_cd25_black, spleen_cd69_black, spleen_cd127_black]
spleen_gray = [spleen_cd44_gray, spleen_cd62l_gray, spleen_cd25_gray, spleen_cd69_gray, spleen_cd127_gray]

# ---- layout (pixels) ----
lung_rows = [(80, 170), (196, 286), (317, 408), (436, 527), (555, 647)]
lung_cols = [(261, 420), (460, 618), (660, 815), (862, 1015), (1054, 1209)]
spleen_rows = [(724, 820), (844, 941), (966, 1062), (1089, 1187), (1212, 1306)]
spleen_cols = [(258, 411), (459, 613), (664, 820), (865, 1020), (1059, 1214)]

label_x = [165, 158, 157, 157, 155]
lung_label_y = [136, 254, 373, 478, 600]
spleen_label_y = [792, 915, 1028, 1135, 1254]
day_x = [324, 515, 705, 922, 1127]

# position of the percentages: (right edge, vertical centre) in axes fractions
lung_pct_pos = [[(0.93, 0.60), (0.96, 0.59), (0.95, 0.60), (0.97, 0.63), (0.97, 0.62)],
                [(0.93, 0.6)] * 5, [(0.93, 0.6)] * 5,
                [(0.90, 0.55), (0.94, 0.55), (0.97, 0.51), (0.94, 0.52), (0.93, 0.51)],
                [(0.92, 0.51), (0.95, 0.49), (0.92, 0.49), (0.89, 0.50), (0.96, 0.49)]]
spleen_pct_pos = [[(0.97, 0.58), (0.90, 0.57), (0.77, 0.54), (0.87, 0.54), (0.79, 0.52)],
                  [(0.91, 0.54), (0.91, 0.54), (0.98, 0.53), (0.93, 0.53), (0.94, 0.53)],
                  [(0.93, 0.6)] * 5, [(0.93, 0.6)] * 5,
                  [(0.89, 0.59), (0.97, 0.58), (0.96, 0.59), (0.92, 0.59), (0.92, 0.59)]]

BOLD = ["Liberation Sans", "DejaVu Sans"]
BLACK = "#1d1d1d"
GRAY = "#b5b5b5"


def fx(x):
    return x / W


def fy(y):
    return 1.0 - y / H


def decades(pos):
    """Map a 0..1 position on the 4-decade axis to a linear value."""
    return 10.0 ** (4.0 * numpy.asarray(pos))


def draw_panel(fig, box, black, gray, gate, endtick, pct, pct_pos):
    (x0, x1), (y0, y1) = box
    ax = fig.add_axes([fx(x0), fy(y1), fx(x1 - x0), (y1 - y0) / H])
    ax.set_xscale("log")
    ax.set_xlim(1, 1e4)
    ax.set_ylim(0, 1)

    # left-edge spike of the grey control
    ax.plot(decades([0.012, 0.012]), [0, 0.8], color=GRAY, lw=2.2, zorder=2,
            solid_capstyle="butt")

    bx, by = zip(*black)
    ax.fill_between(decades(bx), 0, by, color=BLACK, lw=0, zorder=2)
    ax.plot(decades(bx), by, color=BLACK, lw=0.7, zorder=2)

    gx, gy = zip(*gray)
    ax.plot(decades(gx), gy, color=GRAY, lw=1.8, zorder=3, solid_joinstyle="round")

    # gate bracket
    g0, level, top, bot, g1 = gate
    kw = dict(color="#2a2a2a", lw=1.1, zorder=4, solid_capstyle="butt")
    ax.plot(decades([g0, g1]), [level, level], **kw)
    ax.plot(decades([g0, g0]), [top, bot], **kw)
    if endtick:
        ax.plot(decades([g1, g1]) * 0.985, [top, bot], color="#111111", lw=1.6,
                zorder=4, solid_capstyle="butt")

    if pct:
        px, py = pct_pos
        ax.text(px, py - 13.0 / (y1 - y0), pct, transform=ax.transAxes,
                ha="right", va="baseline", fontsize=27, fontweight="bold",
                family=BOLD, zorder=5)

    for side in ax.spines.values():
        side.set_linewidth(0.9)
        side.set_color("#111111")
        side.set_zorder(6)

    ax.xaxis.set_major_locator(LogLocator(base=10, numticks=10))
    ax.xaxis.set_minor_locator(LogLocator(base=10, subs=numpy.arange(2, 10), numticks=10))
    ax.xaxis.set_major_formatter(NullFormatter())
    ax.xaxis.set_minor_formatter(NullFormatter())
    ax.set_yticks(numpy.linspace(0, 1, 6))
    ax.set_yticks(numpy.linspace(0, 1, 26), minor=True)
    ax.set_yticklabels([])
    ax.tick_params(axis="x", which="major", direction="out", length=3.6, width=1.2,
                   color="#111111", bottom=True, top=False)
    ax.tick_params(axis="x", which="minor", direction="out", length=2.0, width=0.9,
                   color="#111111")
    ax.tick_params(axis="y", which="major", direction="out", length=3.4, width=1.0,
                   color="#111111", left=True, right=False)
    ax.tick_params(axis="y", which="minor", direction="out", length=1.7, width=0.7,
                   color="#111111")
    return ax


fig = pyplot.figure(figsize=(W / DPI, H / DPI), dpi=DPI)
fig.patch.set_facecolor("white")

# tissue titles with underline
fig.text(fx(14), fy(63), "Lung", fontsize=52, fontweight="bold", family=BOLD,
         ha="left", va="baseline")
fig.add_artist(Line2D([fx(12), fx(193)], [fy(76.5), fy(76.5)], color="black", lw=3.2,
                      transform=fig.transFigure))
fig.text(fx(7), fy(723), "Spleen", fontsize=51, fontweight="bold", family=BOLD,
         ha="left", va="baseline")
fig.add_artist(Line2D([fx(6), fx(243)], [fy(732), fy(732)], color="black", lw=4.0,
                      transform=fig.transFigure))

for j, day in enumerate(days):
    fig.text(fx(day_x[j]), fy(56), day, fontsize=36, fontweight="bold", family=BOLD,
             ha="center", va="baseline")

for i, marker in enumerate(markers):
    fig.text(fx(label_x[i]), fy(lung_label_y[i]), marker, fontsize=37, fontweight="bold",
             family=BOLD, ha="center", va="center_baseline")
    fig.text(fx(label_x[i]), fy(spleen_label_y[i]), marker, fontsize=37, fontweight="bold",
             family=BOLD, ha="center", va="center_baseline")
    for j in range(len(days)):
        draw_panel(fig, (lung_cols[j], lung_rows[i]), lung_black[i][j], lung_gray[i][j],
                   lung_gates[i][j], lung_gate_endtick[i][j], lung_pct[i][j],
                   lung_pct_pos[i][j])
        draw_panel(fig, (spleen_cols[j], spleen_rows[i]), spleen_black[i][j],
                   spleen_gray[i][j], spleen_gates[i][j], spleen_gate_endtick[i][j],
                   spleen_pct[i][j], spleen_pct_pos[i][j])

fig.savefig("out.png", dpi=DPI, facecolor="white")
pyplot.close(fig)
